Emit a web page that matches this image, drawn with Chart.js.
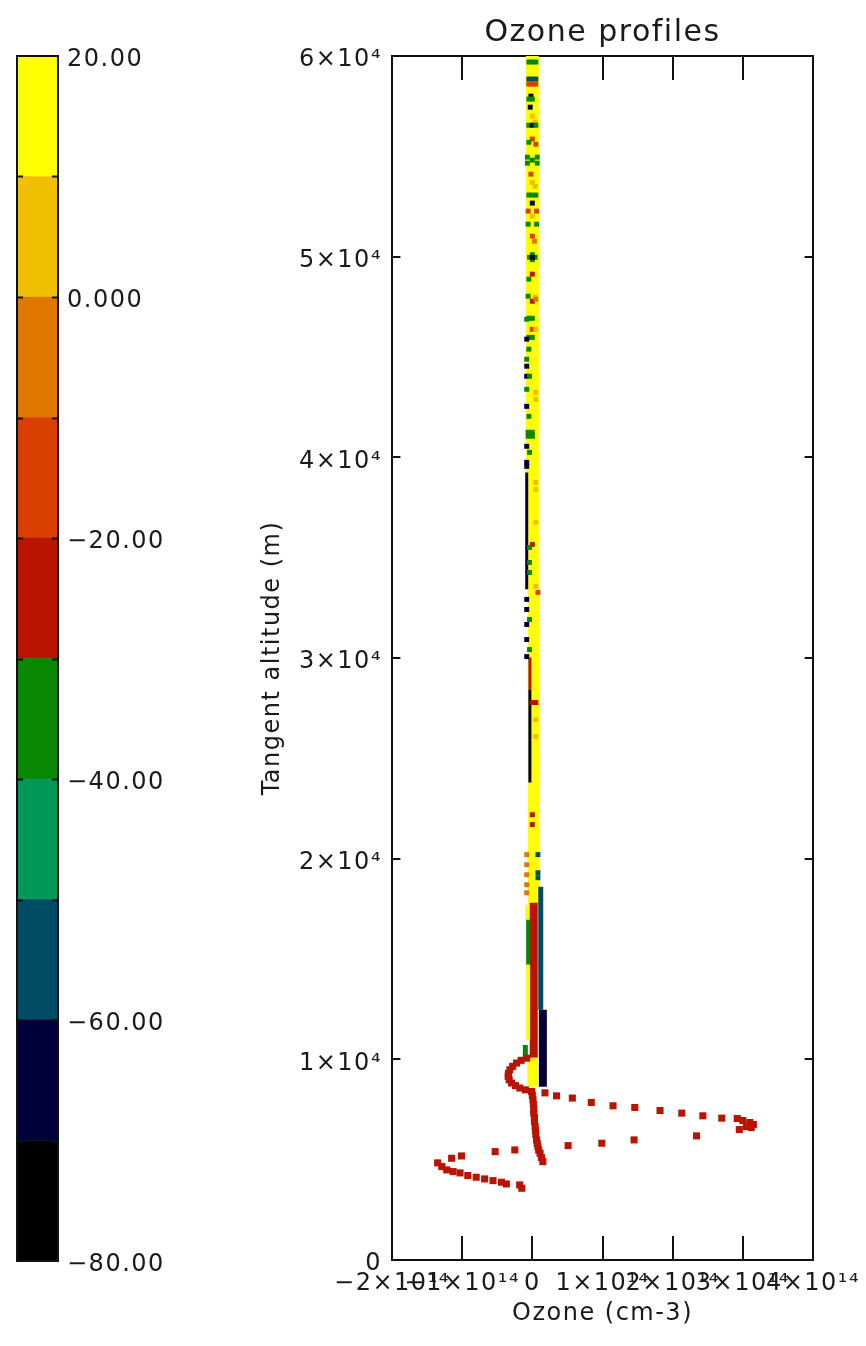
<!DOCTYPE html>
<html><head><meta charset="utf-8">
<script src="https://cdn.jsdelivr.net/npm/chart.js@4.4.0/dist/chart.umd.min.js"></script>
<style>
html,body{margin:0;padding:0;background:#fff;}
#wrap{position:relative;width:866px;height:1346px;overflow:hidden;}
#cb{position:absolute;left:0;top:0;width:200px;height:1346px;}
#main{position:absolute;left:200px;top:0;width:666px;height:1346px;}
</style></head><body>
<div id="wrap">
<canvas id="cb" width="200" height="1346"></canvas>
<canvas id="main" width="666" height="1346"></canvas>
</div>
<script>
// ---------- colour bar ----------
const cbEdges = [-80, -70, -60, -50, -40, -30, -20, -10, 0, 10, 20];
const cbColors = ['#000000', '#000038', '#004c64', '#009858', '#088800', '#b81400', '#d84000', '#e07800', '#f0c000', '#ffff00'];
const cbTickValues = [-80, -60, -40, -20, 0, 20];
const cbTickLabels = ['\u221280.00', '\u221260.00', '\u221240.00', '\u221220.00', '0.000', '20.00'];

// ---------- axes ----------
const xTickValues = [-2, -1, 0, 1, 2, 3, 4];            // ozone, units of 1e14 cm-3
const xTickLabels = ['\u22122\u00d710\u00b9\u2074', '\u22121\u00d710\u00b9\u2074', '0', '1\u00d710\u00b9\u2074', '2\u00d710\u00b9\u2074', '3\u00d710\u00b9\u2074', '4\u00d710\u00b9\u2074'];
const yTickValues = [0, 10000, 20000, 30000, 40000, 50000, 60000];
const yTickLabels = ['0', '1\u00d710\u2074', '2\u00d710\u2074', '3\u00d710\u2074', '4\u00d710\u2074', '5\u00d710\u2074', '6\u00d710\u2074'];

// ---------- data ----------
// dense runs of overlapping samples: [ozone (1e14), top altitude (m), bottom altitude (m), temperature]
const denseRuns = [
  [0.00, 60000, 33400, 15],
  [0.02, 33400, 17700, 15],
  [-0.06, 17700, 16900, 15],
  [0.02, 17800, 10075, -25],
  [0.12, 18600, 12470, -55],
  [0.15, 12470, 8630, -65],
  [-0.06, 16960, 14710, -35],
  [-0.06, 14710, 10970, 15],
  [-0.10, 10720, 10120, -35],
  [0.00, 10075, 8630, 15],
  [-0.08, 39250, 33420, -65],
  [-0.035, 30020, 28430, -25],
  [-0.035, 28430, 23790, -65]
];
// isolated samples inside the upper column: [ozone (1e14), altitude (m), temperature]
const specks = [
  [0, 59700, -35], [-0.05, 59700, -35], [0.05, 59700, -35],
  [0, 58850, -55], [-0.05, 58850, -55], [0.05, 58850, -55],
  [0, 58600, -15], [-0.05, 58600, -15], [0.05, 58600, -15],
  [-0.02, 58000, -65], [0, 57850, -35], [-0.05, 57850, -35],
  [-0.03, 57450, -65], [0, 57000, 5], [0.04, 56700, 5],
  [-0.05, 56550, -35], [0, 56550, -65], [0.05, 56550, -35],
  [0, 55860, -15], [-0.05, 55700, -35], [0.05, 55600, -15],
  [-0.07, 54960, -35], [0.07, 54960, -35], [0, 54810, -35], [-0.07, 54660, -35], [0.07, 54660, -35],
  [-0.02, 54110, -15], [0, 53700, 5], [0.04, 53500, 5],
  [-0.05, 53070, -35], [0, 53070, -35], [0.05, 53070, -35],
  [0, 52670, -65], [-0.06, 52270, -15], [0.06, 52270, -15], [0, 52020, 5],
  [-0.06, 51620, -35], [0.06, 51620, -35], [0, 51020, -15], [0.03, 50770, -5],
  [-0.04, 49970, -35], [0.04, 49970, -35], [0, 50100, -35], [0, 49850, -35], [0, 49970, -65],
  [0, 49130, -25], [-0.05, 48880, -35], [-0.06, 48030, -35], [0, 47780, -25], [0.04, 48000, 5],
  [0.05, 47880, -5], [-0.08, 46880, -35], [-0.05, 46930, -35], [0, 46930, -35],
  [0, 46380, -15], [0.05, 46380, 5], [-0.05, 45980, -35], [0, 45980, -35],
  [-0.08, 45890, -65], [-0.05, 45390, -35], [-0.08, 44890, -35],
  [-0.08, 44540, -65], [-0.08, 44040, -65], [-0.04, 44040, -35],
  [-0.08, 43390, -35], [0.05, 43240, 5], [0.05, 42890, 5],
  [-0.08, 42540, -65], [-0.05, 42040, -35],
  [-0.06, 41250, -35], [0, 41250, -35], [-0.06, 41050, -35], [0, 41050, -35],
  [-0.08, 40550, -65], [-0.04, 40250, -35], [-0.08, 39750, -65], [-0.08, 39550, -65],
  [0.05, 38750, 5], [0.05, 38400, 5], [0.05, 36760, 5],
  [0, 35660, -25], [-0.04, 35510, -35], [-0.04, 34760, -35], [-0.04, 34260, -35],
  [0.05, 33570, 5], [0.08, 33270, -15],
  [-0.08, 32920, -65], [-0.08, 32420, -65], [-0.08, 31670, -65], [-0.08, 30920, -65], [-0.08, 30070, -65],
  [-0.04, 31920, -35], [-0.04, 30420, -35],
  [0.05, 26930, 5], [0.05, 26080, 5], [0, 27780, -25], [0.05, 27780, -25],
  [0, 22190, -25], [0, 21700, -25],
  [0.08, 20200, -55], [0.08, 19300, -55], [0.08, 19050, -55],
  [-0.08, 20200, -5], [-0.08, 19700, -5], [-0.08, 19200, -5], [-0.08, 18700, -5], [-0.08, 18300, -5]
];
// the low, strongly perturbed profile (temperature -25)
const redProfileTemp = -25;
const redLoop = [
  [-0.08, 10060], [-0.16, 9950], [-0.225, 9815], [-0.28, 9650], [-0.32, 9480], [-0.34, 9300],
  [-0.345, 9150], [-0.33, 8980], [-0.296, 8820], [-0.24, 8690], [-0.178, 8570], [-0.10, 8480], [-0.01, 8400]
];
const redDescent = [
  [-0.01, 8395], [0.00, 8200], [0.01, 7980], [0.015, 7750], [0.02, 7520], [0.02, 7315], [0.03, 7100],
  [0.03, 6900], [0.04, 6650], [0.045, 6450], [0.05, 6250], [0.06, 5985], [0.07, 5800], [0.08, 5650],
  [0.09, 5480], [0.11, 5320], [0.13, 5100], [0.15, 4900]
];
const redOutbound = [
  [0.18, 8330], [0.345, 8180], [0.57, 8070], [0.84, 7850], [1.15, 7685], [1.46, 7600], [1.82, 7450],
  [2.13, 7320], [2.43, 7185], [2.70, 7070], [2.92, 7050], [3.00, 6950], [3.10, 6850], [3.15, 6750],
  [3.05, 6650], [3.12, 6600], [2.95, 6500]
];
const redReturn = [
  [2.34, 6185], [1.45, 5985], [0.99, 5820], [0.51, 5700], [-0.25, 5485], [-0.53, 5400],
  [-1.01, 5185], [-1.15, 5070], [-1.35, 4840], [-1.29, 4655], [-1.22, 4490], [-1.13, 4405],
  [-1.03, 4340], [-0.92, 4210], [-0.80, 4125], [-0.68, 4040], [-0.56, 3955], [-0.44, 3875],
  [-0.37, 3790], [-0.18, 3740], [-0.15, 3575]
];

// ---------- styles ----------
const runWidths = [13, 12, 6, 8, 5, 8, 4, 4, 5, 10, 3, 3, 3];
const FONT = '"DejaVu Sans", "Liberation Sans", sans-serif';
Chart.defaults.font.family = FONT;
Chart.defaults.font.size = 24;
Chart.defaults.color = '#1a1a1a';

function colorFor(t) {
  for (let i = 0; i < cbColors.length; i++) {
    if (t >= cbEdges[i] && t < cbEdges[i + 1]) return cbColors[i];
  }
  return t < cbEdges[0] ? cbColors[0] : cbColors[cbColors.length - 1];
}

const spacing = {
  id: 'spacing',
  beforeUpdate(chart) { chart.ctx.letterSpacing = '1.5px'; },
  beforeDraw(chart) { chart.ctx.letterSpacing = '1.5px'; }
};

const cbFrame = {
  id: 'cbFrame',
  afterDraw(chart) {
    const ctx = chart.ctx, a = chart.chartArea, y = chart.scales.y;
    ctx.save();
    ctx.strokeStyle = '#111'; ctx.lineWidth = 2;
    ctx.strokeRect(a.left, a.top, a.right - a.left, a.bottom - a.top);
    ctx.beginPath();
    cbEdges.slice(1, -1).forEach(v => {
      const py = Math.round(y.getPixelForValue(v)) + 0.5;
      ctx.moveTo(a.left, py); ctx.lineTo(a.left + 6, py);
      ctx.moveTo(a.right - 6, py); ctx.lineTo(a.right, py);
    });
    ctx.stroke();
    ctx.restore();
  }
};

new Chart(document.getElementById('cb'), {
  type: 'bar',
  data: {
    labels: [''],
    datasets: cbColors.map((c, i) => ({
      data: [[cbEdges[i], cbEdges[i + 1]]],
      backgroundColor: c, borderWidth: 0, grouped: false,
      barPercentage: 1, categoryPercentage: 1
    }))
  },
  options: {
    responsive: false, animation: false, events: [],
    layout: { padding: { left: 17, top: 56, bottom: 85, right: 0 } },
    plugins: { legend: { display: false }, tooltip: { enabled: false }, title: { display: false } },
    scales: {
      x: { display: false },
      y: {
        position: 'right', min: -80, max: 20,
        afterBuildTicks(s) { s.ticks = cbTickValues.map(v => ({ value: v })); },
        afterFit(s) { s.width = 142; },
        grid: { display: false, drawTicks: false }, border: { display: false },
        ticks: { padding: 9, autoSkip: false, labelOffset: 4, callback: v => cbTickLabels[cbTickValues.indexOf(v)] }
      }
    }
  },
  plugins: [spacing, cbFrame]
});

// ---------- main plot ----------
const mainFrame = {
  id: 'mainFrame',
  beforeDatasetsDraw(chart) {
    const ctx = chart.ctx, a = chart.chartArea, xs = chart.scales.x, ys = chart.scales.y;
    const h = a.bottom - a.top, w = a.right - a.left;
    const xLen = 0.02 * h, yLen = 0.02 * w;
    ctx.save();
    ctx.strokeStyle = '#111'; ctx.lineWidth = 2;
    ctx.strokeRect(a.left, a.top, w, h);
    ctx.beginPath();
    xTickValues.forEach(v => {
      const px = Math.round(xs.getPixelForValue(v));
      ctx.moveTo(px, a.bottom); ctx.lineTo(px, a.bottom - xLen);
      ctx.moveTo(px, a.top); ctx.lineTo(px, a.top + xLen);
    });
    yTickValues.forEach(v => {
      const py = Math.round(ys.getPixelForValue(v));
      ctx.moveTo(a.left, py); ctx.lineTo(a.left + yLen, py);
      ctx.moveTo(a.right, py); ctx.lineTo(a.right - yLen, py);
    });
    ctx.stroke();
    ctx.restore();
  }
};

const toXY = arr => arr.map(p => ({ x: p[0], y: p[1] }));
const datasets = [];
[redLoop, redDescent, redOutbound, redReturn].forEach(arr => datasets.push({
  data: toXY(arr), pointStyle: 'rect', pointRadius: 5, pointBorderWidth: 0,
  pointBackgroundColor: colorFor(redProfileTemp), showLine: false, order: 1
}));
datasets.push({
  data: toXY(specks), pointStyle: 'rect', pointRadius: 3.5, pointBorderWidth: 0,
  pointBackgroundColor: specks.map(s => colorFor(s[2])), showLine: false, order: 5
});
denseRuns.forEach((r, i) => datasets.push({
  data: [{ x: r[0], y: r[1] }, { x: r[0], y: r[2] }],
  showLine: true, borderColor: colorFor(r[3]), borderWidth: runWidths[i],
  borderCapStyle: 'butt', pointRadius: 0, order: i < 2 ? 30 : 20 - i * 0.1
}));

new Chart(document.getElementById('main'), {
  type: 'scatter',
  data: { datasets },
  options: {
    responsive: false, animation: false, events: [],
    layout: { padding: { left: 0, right: 53, top: 0, bottom: 0 } },
    plugins: {
      legend: { display: false }, tooltip: { enabled: false },
      title: {
        display: true, text: 'Ozone profiles', fullSize: false,
        font: { size: 30, weight: 'normal', family: FONT }, color: '#1a1a1a',
        padding: { top: 15, bottom: 5 }
      }
    },
    scales: {
      x: {
        type: 'linear', min: -2, max: 4,
        afterBuildTicks(s) { s.ticks = xTickValues.map(v => ({ value: v })); },
        afterFit(s) { s.height = 86; s.paddingRight = 0; s.paddingLeft = 0; },
        grid: { display: false, drawTicks: false }, border: { display: false },
        ticks: { padding: 9, autoSkip: false, maxRotation: 0, minRotation: 0,
                 callback: v => xTickLabels[xTickValues.indexOf(v)] },
        title: { display: true, text: 'Ozone (cm-3)', padding: { top: 0, bottom: 18 } }
      },
      y: {
        type: 'linear', min: 0, max: 60000,
        afterBuildTicks(s) { s.ticks = yTickValues.map(v => ({ value: v })); },
        afterFit(s) { s.width = 192; },
        grid: { display: false, drawTicks: false }, border: { display: false },
        ticks: { padding: 10, autoSkip: false, labelOffset: 4, callback: v => yTickLabels[yTickValues.indexOf(v)] },
        title: { display: true, text: 'Tangent altitude (m)', padding: { top: 58, bottom: 0 } }
      }
    }
  },
  plugins: [spacing, mainFrame]
});
</script>
</body></html>
